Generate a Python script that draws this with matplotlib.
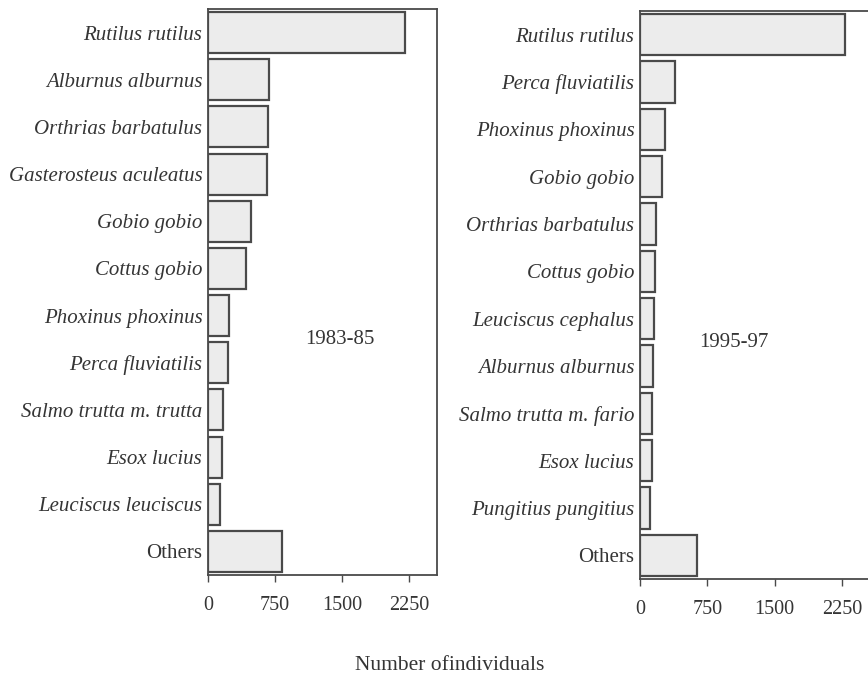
import matplotlib
matplotlib.use("Agg")
from matplotlib import pyplot as plt

# species counts per survey period (top to bottom)
species_8385 = [
    'Rutilus rutilus', 'Alburnus alburnus', 'Orthrias barbatulus',
    'Gasterosteus aculeatus', 'Gobio gobio', 'Cottus gobio',
    'Phoxinus phoxinus', 'Perca fluviatilis', 'Salmo trutta m. trutta',
    'Esox lucius', 'Leuciscus leuciscus', 'Others',
]
counts_8385 = [2200, 680, 670, 660, 480, 425, 235, 228, 168, 156, 134, 825]

species_9597 = [
    'Rutilus rutilus', 'Perca fluviatilis', 'Phoxinus phoxinus',
    'Gobio gobio', 'Orthrias barbatulus', 'Cottus gobio',
    'Leuciscus cephalus', 'Alburnus alburnus', 'Salmo trutta m. fario',
    'Esox lucius', 'Pungitius pungitius', 'Others',
]
counts_9597 = [2280, 386, 276, 243, 178, 166, 154, 143, 133, 128, 110, 630]

xticks = [0, 750, 1500, 2250]

plt.rcParams['font.family'] = ['Liberation Serif', 'DejaVu Serif']
text_col = '#353535'
edge_col = '#4a4a4a'
fill_col = '#ececec'

W, H = 868, 679
fig = plt.figure(figsize=(W / 100, H / 100), dpi=100)


def panel(left, top, right, bottom, names, counts, period, period_x):
    ax = fig.add_axes([left / W, 1 - bottom / H, (right - left) / W, (bottom - top) / H])
    ypos = list(range(len(names)))
    ax.barh(ypos, counts, height=0.87, color=fill_col,
            edgecolor=edge_col, linewidth=1.6)
    ax.set_ylim(len(names) - 0.5, -0.5)
    ax.set_xlim(0, 2560)
    ax.set_yticks(ypos)
    labels = ax.set_yticklabels(names, fontsize=15, color=text_col)
    for lab in labels:
        if lab.get_text() != 'Others':
            lab.set_style('italic')
    ax.tick_params(axis='y', length=0, pad=4)
    ax.set_xticks(xticks)
    ax.tick_params(axis='x', length=5, width=1, color=edge_col,
                   labelsize=14.5, labelcolor=text_col, pad=10)
    for s in ax.spines.values():
        s.set_color(edge_col)
        s.set_linewidth(1.3)
    ax.text(period_x, 6.5, period, fontsize=15, color=text_col,
            ha='center', va='center')
    return ax


panel(208, 9, 437, 575, species_8385, counts_8385, '1983-85', 1470)
panel(640, 11, 870, 579, species_9597, counts_9597, '1995-97', 1050)

fig.text(450 / W, 1 - 665 / H, 'Number ofindividuals', fontsize=15.5,
         color=text_col, ha='center', va='center')

fig.savefig('out.png', dpi=100)
plt.close(fig)
